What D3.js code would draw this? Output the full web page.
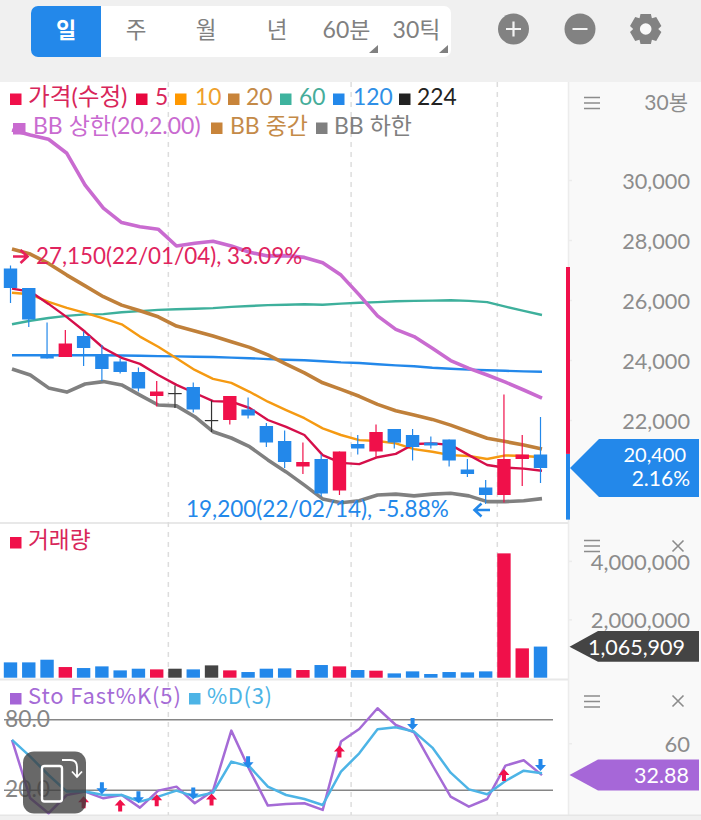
<!DOCTYPE html>
<html><head><meta charset="utf-8">
<script src="https://cdn.jsdelivr.net/npm/d3@7/dist/d3.min.js"></script>
<style>
html,body{margin:0;padding:0;background:#f0f0f0;overflow:hidden}
svg{display:block}
text{font-family:"Lato","Noto Sans CJK KR",sans-serif}
</style></head><body><svg id="c" width="701" height="820"></svg>
<script>
const dates=["22/01/04","22/01/05","22/01/06","22/01/07","22/01/10","22/01/11","22/01/12","22/01/13","22/01/14","22/01/17","22/01/18","22/01/19","22/01/20","22/01/21","22/01/24","22/01/25","22/01/26","22/01/27","22/01/28","22/02/03","22/02/04","22/02/07","22/02/08","22/02/09","22/02/10","22/02/11","22/02/14","22/02/15","22/02/16","22/02/17"];
const open_=[27050,26400,24150,24100,24800,24200,23950,23600,22800,22900,23100,22000,22000,22350,21800,21300,20450,20700,19650,21200,20950,21700,21500,21250,21350,20350,19750,19500,20700,20850];
const close_=[26400,25350,24050,24550,24400,23700,23600,23050,22950,22900,22350,22000,22800,22150,21250,20600,20600,19550,20950,21050,21600,21250,21100,21150,20650,20200,19500,20700,20850,20400];
const high_=[27150,26400,25250,25000,24950,24500,24050,23750,23300,23150,23250,22650,22800,22750,21900,21650,21250,20850,20950,21500,21850,21700,21700,21450,21350,20700,20000,22850,21500,22100];
const low_=[25900,25100,24050,24100,23800,23300,23550,22950,22450,22400,22250,21600,21850,22050,21100,20400,20200,19450,19500,20850,20750,21050,20650,21050,20450,20100,19200,19250,19800,19900];
const ma5=[26380,26280,25870,25430,24940,24400,24070,23870,23500,23170,22900,22630,22610,22400,22000,21770,21500,20830,20570,20530,20760,20870,21200,21220,21170,20830,20500,20410,20380,20310];
const ma10=[26240,26190,25940,25740,25570,25390,25190,24780,24440,24060,23670,23370,23240,22940,22610,22330,22060,21720,21500,21330,21300,21220,21030,20940,20830,20800,20700,20820,20800,20760];
const ma20=[27700,27530,27220,26830,26470,26110,25830,25640,25440,25130,24970,24800,24610,24420,24170,23860,23570,23240,23020,22790,22520,22310,22170,22020,21830,21610,21390,21280,21170,21030];
const ma60=[25190,25310,25400,25470,25520,25530,25590,25630,25670,25690,25710,25730,25770,25800,25830,25840,25860,25840,25880,25910,25930,25960,25970,25980,25990,25970,25930,25780,25640,25500];
const ma120=[24160,24160,24160,24160,24160,24160,24150,24140,24130,24120,24110,24100,24080,24060,24030,24010,23990,23960,23920,23900,23860,23820,23790,23740,23710,23680,23660,23640,23620,23610];
const bbUpper=[31670,31500,31360,30890,29830,29060,28580,28440,28360,27800,27890,27960,27800,27590,27470,27480,27420,27240,26830,26170,25470,25020,24780,24390,23980,23720,23500,23260,23000,22730];
const bbLower=[23700,23500,23070,22930,23200,23280,23170,22830,22500,22470,22110,21610,21400,21110,20670,20270,19830,19370,19240,19310,19500,19530,19470,19530,19560,19470,19280,19280,19310,19380];
const volume=[525000,525000,616000,365000,331000,388000,251000,308000,285000,308000,285000,422000,251000,194000,308000,320000,263000,434000,388000,263000,240000,148000,217000,126000,194000,183000,217000,4258000,1005000,1065909];
const stoK=[62.8,13.2,0.5,16.0,18.9,13.2,16.0,5.3,19.7,23.1,9.0,19.7,70.7,37.3,7.0,8.4,9.0,3.3,61.4,72.1,89.7,75.5,69.3,41.5,14.6,6.1,12.6,41.0,45.5,32.88];
const stoD=[62.8,48.6,33.0,18.9,18.9,16.0,16.0,10.4,14.6,19.7,14.6,18.0,44.4,40.1,23.1,16.0,12.6,7.5,35.9,51.4,71.8,73.5,69.9,56.3,35.0,20.8,16.6,27.9,36.7,34.4];
const stoUpDates=["22/01/10","22/01/12","22/01/14","22/01/19","22/01/28","22/02/15"];
const stoUpVals=[9.8,7.0,11.5,12.1,52.9,33.0];
const stoDownDates=["22/01/11","22/01/13","22/01/18","22/01/21","22/02/08","22/02/17"];
const stoDownVals=[21.7,14.1,17.2,43.8,76.4,41.5];
const gridDates=["22/01/14","22/01/28","22/02/14"];
const priceTicks=[30000,28000,26000,24000,22000];
const volumeTicks=[4000000,2000000];
const stoTicks=[60];
const stoGuides=[80,20];
const priceRange=[27100,20870,18680];
const legend1=["가격(수정)","5","10","20","60","120","224"];
const legend1Colors=["#d8265a","#d8265a","#ee9f2c","#c48a48","#46ad9a","#2f8fe6","#222222"];
const legend1Marks=["#f0104a","#e8083f","#ff9800","#c8843a","#3eb39e","#2388ea","#222222"];
const legend1SqX=[10,136,175,228,280,333,399];
const legend1TxtX=[28,155,195,246,299,353,417];
const legend2=["BB 상한(20,2.00)","BB 중간","BB 하한"];
const legend2Colors=["#c96bd0","#c48a48","#808080"];
const legend2SqX=[13,211,316];
const legend2TxtX=[33,230,334];
const tabs=["일","주","월","년","60분","30틱"];
const tabX=[66,136,206,277,346.5,416.5];

const RED="#f0104a",BLUE="#2388ea",DARK="#444444",GREY="#8a8a8a";
const svg=d3.select("#c");
function rect(g,x,y,w,h,f,rx){return g.append("rect").attr("x",x).attr("y",y).attr("width",w).attr("height",h).attr("fill",f).attr("rx",rx||0);}
function label(g,x,y,s,f,size,anchor,weight){return g.append("text").attr("x",x).attr("y",y).attr("dy","0.35em").attr("fill",f).attr("font-size",size).attr("text-anchor",anchor||"start").attr("font-weight",weight||400).text(s);}

// background
rect(svg,0,0,701,820,"#f0f0f0");
rect(svg,0,82,568,733,"#ffffff");
rect(svg,568,82,133,733,"#f9f9f9");
svg.append("line").attr("x1",568.5).attr("x2",568.5).attr("y1",82).attr("y2",815).attr("stroke","#ececec").attr("stroke-width",1.5);
rect(svg,0,522,568,2,"#e8e8e8");
rect(svg,0,678.5,568,2,"#e8e8e8");
rect(svg,0,814.5,701,1.5,"#e6e6e6");

// toolbar
rect(svg,31,6,420,51,"#ffffff",7);
svg.append("path").attr("d","M38,6H101V57H38A7,7 0 0 1 31,50V13A7,7 0 0 1 38,6Z").attr("fill",BLUE);
tabs.forEach((t,i)=>label(svg,tabX[i],30,t,i===0?"#ffffff":"#808080",i===0?22:(i>3?23:22.5),"middle",i===0?700:400));
[[369,378],[439,448]].forEach(([a,b])=>svg.append("path").attr("d",`M${b},45V53H${a}Z`).attr("fill","#808080"));
[513.5,580].forEach(cx=>svg.append("circle").attr("cx",cx).attr("cy",29).attr("r",15.5).attr("fill","#828282"));
svg.append("path").attr("d","M506,29H521M513.5,21.5V36.5M572.5,29H587.5").attr("stroke","#f4f4f4").attr("stroke-width",2.2).attr("fill","none");
(function(){let d="";const cx=645.7,cy=29;const N=6;
 for(let i=0;i<N;i++){const a=i*2*Math.PI/N-Math.PI/2;const s=0.33;
  const pts=[[a-0.52,12.5],[a-s,16],[a+s,16],[a+0.52,12.5]];
  pts.forEach(p=>{d+=(d?"L":"M")+(cx+p[1]*Math.cos(p[0])).toFixed(1)+","+(cy+p[1]*Math.sin(p[0])).toFixed(1);});}
 svg.append("path").attr("d",d+"Z").attr("fill","#828282");
 svg.append("circle").attr("cx",cx).attr("cy",cy).attr("r",5.8).attr("fill","#f8f8f8");})();

// scales
const x=d3.scalePoint().domain(dates).range([12,542]);
const step=x.step();
const cOff=-1.5, barW=13.4;
const yP=d3.scaleLinear().domain([22000,30000]).range([420,180]);
const yV=d3.scaleLinear().domain([0,4000000]).range([677.7,560.9]);
const yS=d3.scaleLinear().domain([20,80]).range([790.3,719.7]);

// vertical grid
const grid=svg.append("g");
gridDates.forEach(d=>grid.append("line").attr("x1",x(d)+step/2+1).attr("x2",x(d)+step/2+1).attr("y1",82).attr("y2",815).attr("stroke","#dddddd").attr("stroke-width",1.5).attr("stroke-dasharray","5 5"));

// axes
function axis(scale,ticks,fmt,size){
  const g=svg.append("g").attr("transform",`translate(568,0)`).call(d3.axisRight(scale).tickValues(ticks).tickFormat(fmt).tickSize(4).tickPadding(0));
  g.select(".domain").remove();
  g.selectAll(".tick line").attr("stroke","#ececec").attr("stroke-width",1.5);
  g.selectAll(".tick text").attr("x",122).attr("dy","0.38em").attr("text-anchor","end").attr("fill","#8c8c8c").attr("font-size",size).attr("font-family",'"Lato","Noto Sans CJK KR",sans-serif');
  return g;
}
axis(yP,priceTicks,d3.format(","),21.7);
axis(yV,volumeTicks,d3.format(","),22);
axis(yS,stoTicks,d3.format("d"),22);

// overlay lines
const lineP=d3.line().x((d,i)=>x(dates[i])).y(d=>yP(d));
[[ma120,BLUE,2.4],[ma60,"#3eb09c",2.4],[ma10,"#f59a12",2.4],[ma5,"#d50f4a",2.4],[ma20,"#c0803a",3.6],[bbUpper,"#c96bd0",3.6],[bbLower,"#808080",3.6]].forEach(([s,c,w])=>{
  svg.append("path").attr("d",lineP(s)).attr("fill","none").attr("stroke",c).attr("stroke-width",w).attr("stroke-linejoin","round");
});

// candles
const colorOf=i=>close_[i]>open_[i]?RED:(close_[i]<open_[i]?BLUE:"#333333");
const cg=svg.append("g").selectAll("g").data(dates).join("g");
cg.append("line").attr("x1",d=>x(d)+cOff).attr("x2",d=>x(d)+cOff)
  .attr("y1",(d,i)=>yP(high_[i])).attr("y2",(d,i)=>yP(low_[i])).attr("stroke",(d,i)=>colorOf(i)).attr("stroke-width",1.2);
cg.append("rect").attr("x",d=>x(d)+cOff-barW/2).attr("width",barW)
  .attr("y",(d,i)=>yP(Math.max(open_[i],close_[i])))
  .attr("height",(d,i)=>Math.max(yP(Math.min(open_[i],close_[i]))-yP(Math.max(open_[i],close_[i])),1.2))
  .attr("fill",(d,i)=>colorOf(i));

// legends
legend1.forEach((t,i)=>{
  rect(svg,legend1SqX[i],93.5,11.5,11.5,legend1Marks[i]);
  label(svg,legend1TxtX[i],97,t,legend1Colors[i],i===0?23.6:22.8);
});
legend2.forEach((t,i)=>{
  rect(svg,legend2SqX[i],i===0?123:122.5,i===0?12.5:11.5,i===0?11.5:11.5,i===0?"#c96bd0":(i===1?"#c8843a":"#808080"));
  label(svg,legend2TxtX[i],126,t,legend2Colors[i],23);
});
label(svg,36,256,"27,150(22/01/04), 33.09%","#e0245e",22.4);
label(svg,186,509,"19,200(22/02/14), -5.88%",BLUE,22.5);
svg.append("path").attr("d","M13,256.5H27M20.5,250L27.5,256.5L20.5,263").attr("fill","none").attr("stroke","#e8205a").attr("stroke-width",2.6);
svg.append("path").attr("d","M490,510H474.5M481.5,503.5L474.5,510L481.5,516.5").attr("fill","none").attr("stroke",BLUE).attr("stroke-width",2.6);

// range bar + price flag
rect(svg,566,yP(priceRange[1]),4,yP(priceRange[2])-yP(priceRange[1]),BLUE);
rect(svg,566,yP(priceRange[0]),4,yP(priceRange[1])-yP(priceRange[0]),RED);
svg.append("path").attr("d","M570,468L599,439H699V497H599Z").attr("fill",BLUE);
label(svg,686,455,"20,400","#ffffff",20,"end");
label(svg,690,479,"2.16%","#ffffff",21,"end");

// menus
function burger(cx,cy){svg.append("path").attr("d",`M${cx-8},${cy-5.5}H${cx+8}M${cx-8},${cy}H${cx+8}M${cx-8},${cy+5.5}H${cx+8}`).attr("stroke","#8c8c8c").attr("stroke-width",1.5).attr("fill","none");}
function cross(cx,cy){svg.append("path").attr("d",`M${cx-5.5},${cy-5.5}L${cx+5.5},${cy+5.5}M${cx+5.5},${cy-5.5}L${cx-5.5},${cy+5.5}`).attr("stroke","#8c8c8c").attr("stroke-width",1.6).attr("fill","none");}
burger(592,103);label(svg,688,103,"30봉","#8c8c8c",21,"end");
burger(592,546);cross(678,546);
burger(592,701.5);cross(678,701);

// volume
rect(svg,10,537,11.5,11.5,RED);
label(svg,28,540,"거래량","#d8265a",22.7);
svg.append("g").selectAll("rect").data(dates).join("rect")
  .attr("x",d=>x(d)+cOff-barW/2).attr("width",barW)
  .attr("y",(d,i)=>yV(volume[i])).attr("height",(d,i)=>yV(0)-yV(volume[i]))
  .attr("fill",(d,i)=>colorOf(i)==="#333333"?DARK:colorOf(i));
svg.append("path").attr("d","M569.5,646.7L598,631H699V661.7H598Z").attr("fill",DARK);
label(svg,685,647,d3.format(",")(volume[29]),"#ffffff",21.5,"end");

// stochastic
rect(svg,10,693,11.5,11.5,"#a564d6");
label(svg,28,696.5,"Sto Fast%K(5)","#a56bd6",22).style("font-family",'"Noto Sans CJK KR",sans-serif').attr("letter-spacing",0.9);
rect(svg,189,693,11.5,11.5,"#4db4e6");
label(svg,207,696.5,"%D(3)","#4db4e6",22).style("font-family",'"Noto Sans CJK KR",sans-serif').attr("letter-spacing",0.6);
stoGuides.forEach(v=>{
  svg.append("line").attr("x1",4).attr("x2",553).attr("y1",yS(v)).attr("y2",yS(v)).attr("stroke","#868686").attr("stroke-width",1.4);
  label(svg,5,yS(v)-1,d3.format(".1f")(v),"#868686",22.8);
});
const lineS=d3.line().x((d,i)=>x(dates[i])).y(d=>yS(d));
svg.append("path").attr("d",lineS(stoK)).attr("fill","none").attr("stroke","#a56bd6").attr("stroke-width",2.5).attr("stroke-linejoin","round");
svg.append("path").attr("d",lineS(stoD)).attr("fill","none").attr("stroke","#4db4e6").attr("stroke-width",2.5).attr("stroke-linejoin","round");
const upArrow="M0,-6L5.5,0H2V6H-2V0H-5.5Z", downArrow="M0,6L5.5,0H2V-6H-2V0H-5.5Z";
svg.append("g").selectAll("path").data(stoUpDates).join("path").attr("d",upArrow).attr("fill",RED)
  .attr("transform",(d,i)=>`translate(${x(d)+cOff},${yS(stoUpVals[i])})`);
svg.append("g").selectAll("path").data(stoDownDates).join("path").attr("d",downArrow).attr("fill",BLUE)
  .attr("transform",(d,i)=>`translate(${x(d)+cOff},${yS(stoDownVals[i])})`);
svg.append("path").attr("d","M569.5,775L598,759.5H699V790.5H598Z").attr("fill","#a667d8");
label(svg,689,775,d3.format(".2f")(stoK[29]),"#ffffff",21.5,"end");

// rotate button
rect(svg,23,751.5,63,62,"rgba(62,62,62,0.78)",11);
rect(svg,42,766,20,35.5,"rgba(255,255,255,0.0)",2.5).attr("stroke","#ffffff").attr("stroke-width",2.4);
svg.append("path").attr("d","M62,760H70Q77,760 77,767V776M72,771.5L77,777L82,771.5").attr("fill","none").attr("stroke","#ffffff").attr("stroke-width",1.8);
</script></body></html>
